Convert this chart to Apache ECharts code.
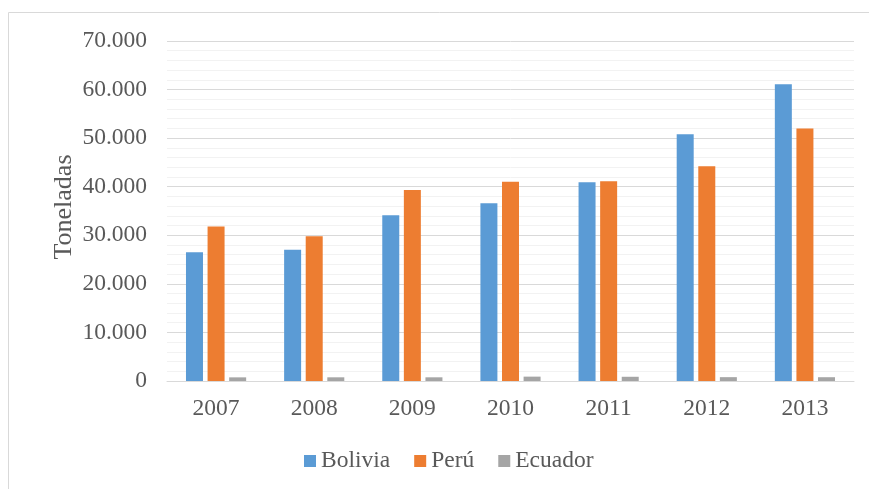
<!DOCTYPE html>
<html>
<head>
<meta charset="utf-8">
<script src="https://cdn.jsdelivr.net/npm/echarts@6/dist/echarts.min.js"></script>
<style>
  html, body { margin: 0; padding: 0; background: #fff; }
  #chart { width: 869px; height: 489px; }
</style>
</head>
<body>
<div id="chart"></div>
<script>
var years = ['2007', '2008', '2009', '2010', '2011', '2012', '2013'];
var bolivia = [26500, 27000, 34100, 36600, 40900, 50800, 61100];
var peru = [31800, 29800, 39300, 41000, 41100, 44200, 52000];
var ecuador = [750, 760, 760, 900, 870, 790, 780];

var font = 'Liberation Serif';
var textColor = '#595959';

var chart = echarts.init(document.getElementById('chart'), null, { renderer: 'canvas' });

function fmt(v) {
  // thousands with a dot, as in the source
  return String(v).replace(/\B(?=(\d{3})+(?!\d))/g, '.');
}

function bar(name, data, color) {
  return {
    name: name,
    type: 'bar',
    data: data,
    barWidth: 17,
    barGap: '27%',
    itemStyle: { color: color }
  };
}

var option = {
  animation: false,
  textStyle: { fontFamily: font },
  graphic: [{
    type: 'rect',
    shape: { x: 8.5, y: 12.5, width: 1000, height: 700 },
    style: { fill: 'none', stroke: '#d9d9d9', lineWidth: 1 },
    silent: true
  }],
  grid: { left: 167, right: 15, top: 41, bottom: 108 },
  legend: {
    bottom: 11,
    left: 299,
    itemWidth: 12,
    itemHeight: 12,
    itemGap: 24,
    icon: 'rect',
    textStyle: { fontFamily: font, fontSize: 23.5, color: textColor },
    data: ['Bolivia', 'Perú', 'Ecuador']
  },
  xAxis: {
    type: 'category',
    data: years,
    axisLine: { lineStyle: { color: '#d9d9d9', width: 1 } },
    axisTick: { show: false },
    axisLabel: { fontFamily: font, fontSize: 23.5, color: textColor, margin: 16 }
  },
  yAxis: {
    type: 'value',
    min: 0,
    max: 70000,
    interval: 10000,
    name: 'Toneladas',
    nameLocation: 'middle',
    nameGap: 90,
    nameMoveOverlap: false,
    nameTextStyle: { fontFamily: font, fontSize: 26, color: textColor, padding: [0, 0, 0, 8] },
    axisLine: { show: false },
    axisTick: { show: false },
    axisLabel: { fontFamily: font, fontSize: 23.5, color: textColor, margin: 20, formatter: fmt },
    splitLine: { lineStyle: { color: '#d9d9d9', width: 1 } },
    minorTick: { show: false, splitNumber: 5 },
    minorSplitLine: { show: true, lineStyle: { color: '#f2f2f2', width: 1 } }
  },
  series: [
    bar('Bolivia', bolivia, '#5b9bd5'),
    bar('Perú', peru, '#ed7d31'),
    bar('Ecuador', ecuador, '#a5a5a5')
  ]
};

chart.setOption(option);
</script>
</body>
</html>
